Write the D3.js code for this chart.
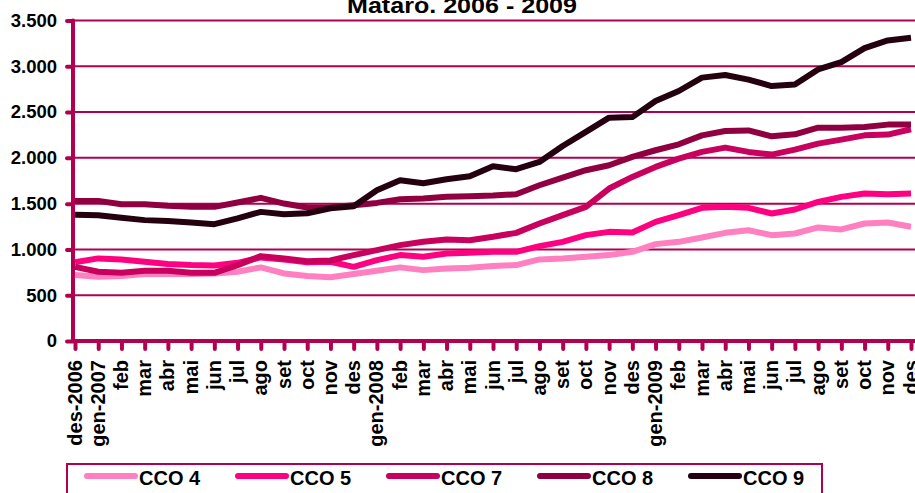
<!DOCTYPE html>
<meta charset="utf-8">
<script src="https://d3js.org/d3.v7.min.js"></script>
<style>
  body { margin: 0; background: #fff; }
  text { font-family: "Liberation Sans", Arial, sans-serif; font-weight: bold; fill: #000; }
</style>
<div id="chart"></div>
<script>
// month labels, des-2006 .. des-2009
var months = ["des-2006", "gen-2007", "feb", "mar", "abr", "mai", "jun", "jul", "ago", "set", "oct", "nov", "des",
  "gen-2008", "feb", "mar", "abr", "mai", "jun", "jul", "ago", "set", "oct", "nov", "des",
  "gen-2009", "feb", "mar", "abr", "mai", "jun", "jul", "ago", "set", "oct", "nov", "des"];

var cco4 = [720, 701, 709, 731, 731, 731, 738, 756, 804, 738, 709, 697, 731, 767, 804, 774, 792, 800, 818, 829, 891,
  902, 920, 938, 974, 1058, 1083, 1131, 1181, 1210, 1156, 1174, 1240, 1218, 1283, 1294, 1247];
var cco5 = [860, 902, 891, 865, 840, 829, 825, 854, 913, 891, 860, 865, 810, 883, 938, 920, 956, 963, 974, 974, 1036,
  1083, 1156, 1192, 1185, 1301, 1374, 1454, 1465, 1454, 1392, 1436, 1519, 1574, 1610, 1603, 1610];
var cco7 = [810, 756, 745, 767, 767, 745, 745, 829, 927, 902, 870, 880, 938, 992, 1047, 1083, 1109, 1101, 1138, 1181, 1283,
  1374, 1465, 1665, 1792, 1901, 1992, 2065, 2112, 2065, 2036, 2090, 2155, 2199, 2246, 2254, 2312];
var cco8 = [1530, 1530, 1494, 1494, 1476, 1465, 1465, 1512, 1563, 1501, 1458, 1461, 1483, 1508, 1548, 1556, 1574, 1581, 1589, 1603, 1701,
  1785, 1865, 1919, 2010, 2083, 2148, 2246, 2293, 2300, 2235, 2257, 2330, 2330, 2337, 2363, 2363];
var cco9 = [1380, 1374, 1345, 1320, 1310, 1295, 1276, 1340, 1410, 1385, 1395, 1450, 1472, 1646, 1756, 1723, 1767, 1800, 1908, 1876, 1955,
  2130, 2283, 2439, 2445, 2620, 2730, 2876, 2905, 2854, 2784, 2800, 2966, 3046, 3199, 3282, 3311];

var seriesNames = ["CCO 4", "CCO 5", "CCO 7", "CCO 8", "CCO 9"];
var seriesValues = [cco4, cco5, cco7, cco8, cco9];
var colors = ["#ff80c0", "#ff0080", "#c8005e", "#900040", "#25000f"];
var yTicks = [0, 500, 1000, 1500, 2000, 2500, 3000, 3500];
var title = "Mataró. 2006 - 2009";

var W = 915, H = 493;
var axisColor = "#b0004f";
var fmt = d3.formatLocale({decimal: ",", thousands: ".", grouping: [3]}).format(",");

var svg = d3.select("#chart").append("svg")
  .attr("width", W)
  .attr("height", H);

var x = d3.scalePoint()
  .domain(d3.range(months.length))
  .range([75, 911]);

var y = d3.scaleLinear()
  .domain([0, 3500])
  .range([341, 20.5]);

// gridlines
svg.append("g")
  .selectAll("line")
  .data(yTicks.filter(function(d) { return d > 0; }))
  .enter().append("line")
    .attr("x1", 73).attr("x2", W)
    .attr("y1", function(d) { return y(d); })
    .attr("y2", function(d) { return y(d); })
    .attr("stroke", axisColor)
    .attr("stroke-width", 2);

// Y axis
var yAxis = svg.append("g")
  .attr("transform", "translate(73,0)")
  .call(d3.axisLeft(y).tickValues(yTicks).tickSize(6).tickPadding(10).tickFormat(fmt));
yAxis.select(".domain").remove();
yAxis.selectAll(".tick line")
  .attr("stroke", axisColor).attr("stroke-width", 4).attr("stroke-linecap", "round");
yAxis.selectAll("text")
  .attr("font-size", "18.5px")
  .attr("x", -16)
  .style("font-family", "'Liberation Sans', Arial, sans-serif");
yAxis.append("line")
  .attr("x1", 0).attr("x2", 0)
  .attr("y1", y(0)).attr("y2", y(3500))
  .attr("stroke", axisColor).attr("stroke-width", 4).attr("stroke-linecap", "round");

// X axis
var xAxis = svg.append("g")
  .attr("transform", "translate(0," + y(0) + ")")
  .call(d3.axisBottom(x).tickSize(8).tickFormat(function(i) { return months[i]; }));
xAxis.select(".domain").remove();
xAxis.selectAll(".tick line")
  .attr("stroke", axisColor).attr("stroke-width", 4).attr("stroke-linecap", "round");
xAxis.selectAll("text")
  .attr("font-size", "20px")
  .style("font-family", "'Liberation Sans', Arial, sans-serif")
  .attr("text-anchor", "end")
  .attr("transform", "rotate(-90)")
  .attr("x", -19)
  .attr("y", 0)
  .attr("dy", "0.3em");
xAxis.append("line")
  .attr("x1", 73).attr("x2", W)
  .attr("stroke", axisColor).attr("stroke-width", 4);

// lines
var line = d3.line()
  .x(function(d, i) { return x(i); })
  .y(function(d) { return y(d); });

svg.append("g")
  .selectAll("path")
  .data(seriesValues)
  .enter().append("path")
    .attr("fill", "none")
    .attr("stroke", function(d, i) { return colors[i]; })
    .attr("stroke-width", 6)
    .attr("stroke-linejoin", "round")
    .attr("d", line);

// title (cut at the top, as in the original)
svg.append("text")
  .attr("x", 462)
  .attr("y", 13)
  .attr("text-anchor", "middle")
  .attr("font-size", "22px")
  .attr("textLength", 230)
  .attr("lengthAdjust", "spacingAndGlyphs")
  .text(title);

// legend
svg.append("rect")
  .attr("x", 67).attr("y", 464)
  .attr("width", 755).attr("height", 40)
  .attr("fill", "none")
  .attr("stroke", axisColor)
  .attr("stroke-width", 2);

var leg = svg.append("g")
  .selectAll("g")
  .data(seriesNames)
  .enter().append("g")
    .attr("transform", function(d, i) { return "translate(" + (85 + i * 151) + ",0)"; });
leg.append("line")
  .attr("x1", 2).attr("x2", 50)
  .attr("y1", 476).attr("y2", 476)
  .attr("stroke", function(d, i) { return colors[i]; })
  .attr("stroke-width", 6)
  .attr("stroke-linecap", "round");
leg.append("text")
  .attr("x", 54)
  .attr("y", 485)
  .attr("font-size", "20px")
  .text(function(d) { return d; });
</script>
